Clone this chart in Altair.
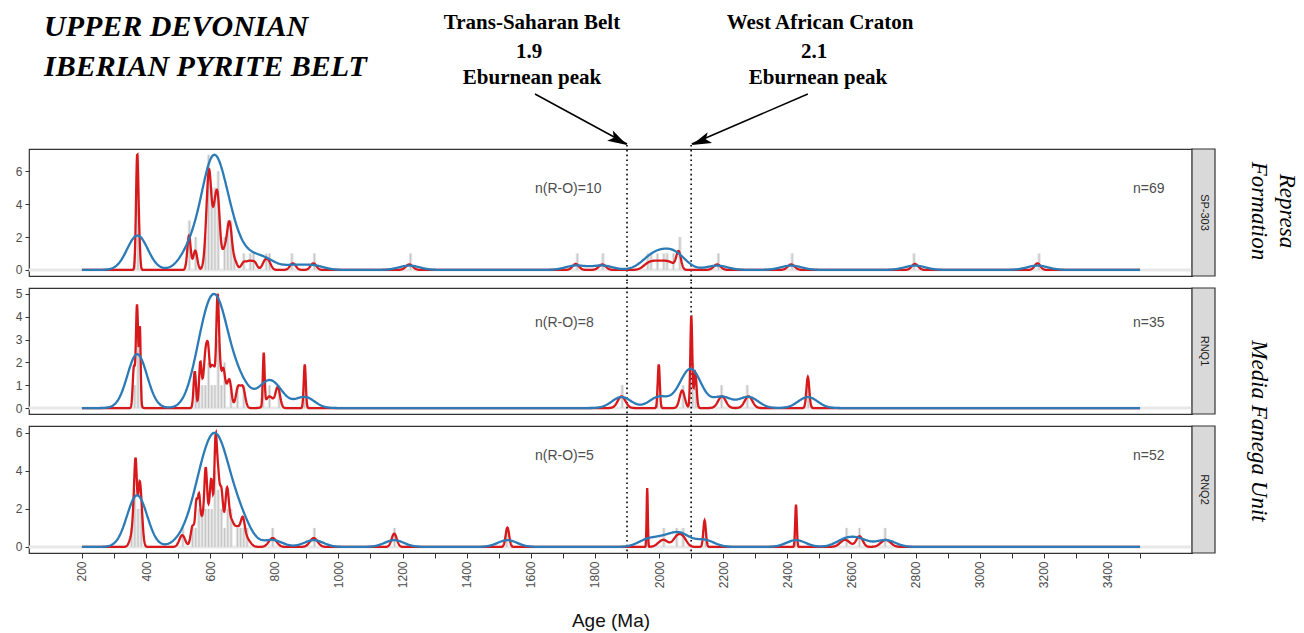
import altair as alt
import pandas as pd

# ---------------- data ----------------
PANELS = ["SP-303", "RNQ1", "RNQ2"]
PEAKS = [7, 5, 6]
N_TEXT = ["n=69", "n=35", "n=52"]
RO_TEXT = ["n(R-O)=10", "n(R-O)=8", "n(R-O)=5"]
Y_DOMAINS = [[-0.37, 7.35], [-0.26, 5.26], [-0.32, 6.36]]
Y_TICKS = [[0, 2, 4, 6], [0, 1, 2, 3, 4, 5], [0, 2, 4, 6]]
X_DOMAIN = [35, 3662]
X_TICKS = list(range(200, 3501, 100))
REF_AGES = [1900, 2100]

# SP-303 grain ages (Ma) and 1-sigma uncertainties
SP303_AGES = [369, 371, 372, 372, 373, 374, 376, 379,
              532, 534, 536, 552, 555,
              584, 588, 590, 592, 594, 595, 596, 597, 598, 600, 601, 603,
              607, 609, 611, 614, 616, 618, 619,
              621, 623, 625, 626, 627, 628,
              640, 646,
              653, 656, 659, 661, 663, 666,
              677,
              705, 722, 738, 770, 782,
              858, 922,
              1221, 1740, 1823,
              1962, 1978, 1994, 2010, 2026, 2042, 2060, 2062,
              2181, 2412, 2798, 3180]
SP303_SIGMA = [3, 3, 3, 3, 3, 3, 3, 3,
               5, 5, 5, 6, 6,
               6, 5, 5, 5, 5, 5, 5, 5, 5, 5, 5, 5,
               6, 6, 6, 6, 6, 6, 6,
               6, 6, 6, 6, 6, 6,
               6, 6,
               6, 6, 6, 6, 6, 6,
               7,
               8, 8, 8, 8, 8,
               9, 9,
               11, 10, 11,
               15, 15, 15, 15, 15, 15, 7, 7,
               11, 11, 10, 9]

# RNQ1
RNQ1_AGES = [362, 371, 372, 376, 381,
             552, 569, 578, 585, 590, 595, 604, 612, 620, 623, 625, 630, 640, 648, 661, 687, 702,
             767, 785, 811, 895,
             1883, 1999, 2072, 2100, 2101, 2113, 2196, 2279, 2464]
RNQ1_SIGMA = [3.5, 3.3, 3.3, 5, 2.2,
              3.8, 3.8, 8, 5, 5, 4, 4, 4, 3.3, 3.3, 3.3, 4, 5, 8, 6, 7, 7,
              2.7, 12, 7, 3.2,
              12, 3.2, 8, 3, 3, 4, 12, 12, 4.5]

# RNQ2
RNQ2_AGES = [358, 363, 367, 369, 374, 379, 382, 385,
             513, 545, 557, 560, 565, 574, 578, 585, 587, 592, 595, 603, 605, 610,
             615, 617, 618, 623, 625, 628, 633, 636, 642, 651, 654, 660, 665, 680, 690, 702, 712,
             795, 923, 1174, 1527,
             1963, 2013, 2055, 2074, 2142,
             2427, 2580, 2625, 2707]
RNQ2_SIGMA = [8, 4, 3.5, 3.5, 8, 4, 6, 5,
              9, 6, 3.5, 10, 3.5, 8, 10, 4, 4, 10, 7, 4.5, 4.5, 10,
              3.5, 3.5, 3.5, 4, 4, 10, 5, 5, 10, 5, 5, 10, 8, 10, 10, 6, 12,
              12, 12, 8, 5.5,
              1.8, 15, 12, 12, 4,
              2.5, 15, 10, 15]

AGES = [SP303_AGES, RNQ1_AGES, RNQ2_AGES]
SIGMAS = [SP303_SIGMA, RNQ1_SIGMA, RNQ2_SIGMA]
BANDWIDTHS = [32, 30, 30]

# ---------------- styling / layout ----------------
RED = "#d7191c"
BLUE = "#2c7bb6"
SANS = "Liberation Sans"
SERIF = "Liberation Serif"
W = 1163
HEIGHTS = [127, 126, 127]
RO_Y = [40, 35, 30]


def make_panel(i):
    h = HEIGHTS[i]
    last = i == len(PANELS) - 1
    xs = alt.Scale(domain=X_DOMAIN, nice=False, zero=False)
    ys = alt.Scale(domain=Y_DOMAINS[i], nice=False, zero=False)
    if last:
        xaxis = alt.Axis(values=X_TICKS, format="d",
                         labelExpr="datum.value % 200 == 0 ? datum.label : ''",
                         labelAngle=270, labelFontSize=12, labelColor="#4d4d4d", labelFont=SANS,
                         labelFlush=False, labelPadding=3,
                         tickColor="#333333", tickSize=5, tickWidth=1,
                         domain=False, grid=False, title="Age (Ma)", titleFont=SANS,
                         titleFontSize=19, titleFontWeight="normal", titleColor="#111111",
                         titlePadding=24)
    else:
        xaxis = None
    yaxis = alt.Axis(values=Y_TICKS[i], format="d", labelFontSize=12, labelColor="#4d4d4d",
                     labelFont=SANS, tickColor="#333333", tickSize=4, domain=False,
                     grid=False, title=None, labelPadding=3)

    def X(f):
        return alt.X(f, type="quantitative", scale=xs, axis=xaxis)

    def Y(f):
        return alt.Y(f, type="quantitative", scale=ys, axis=yaxis)

    one = pd.DataFrame({"z": [0]})
    grains = pd.DataFrame({"age": AGES[i], "sigma": SIGMAS[i]})
    grains["w"] = 1
    pdp_src = pd.concat([grains, pd.DataFrame({"age": [0.0], "sigma": [1.0], "w": [0]})],
                        ignore_index=True)

    layers = []
    layers.append(alt.Chart(one).mark_rule(color="#e8e8e8", strokeWidth=3).encode(
        x=alt.value(0), x2=alt.value(W), y=Y("z")))

    hist = alt.Chart(grains).transform_bin(
        as_="b0", field="age", bin=alt.Bin(step=10, extent=[0, 3700])
    ).transform_aggregate(
        count="count()", groupby=["b0", "b0_end"]
    ).transform_calculate(mid="(datum.b0 + datum.b0_end) / 2", z="0")
    layers.append(hist.mark_rect(fill="#e4e4e4", clip=True).encode(
        x=X("b0"), x2="b0_end:Q", y=Y("count"), y2="z:Q"))
    layers.append(hist.mark_rule(color="#b8b8b8", strokeWidth=0.8, clip=True).encode(
        x=X("mid"), y=Y("count"), y2="z:Q"))

    top = -4 if i == 0 else -6
    bottom = h if last else h + 6
    layers.append(alt.Chart(pd.DataFrame({"x": REF_AGES})).mark_rule(
        color="black", strokeWidth=1.6, strokeDash=[1.6, 3.2]).encode(
        x=X("x"), y=alt.value(top), y2=alt.value(bottom)))

    red = alt.Chart(pdp_src).transform_calculate(
        grid="datum.w == 0 ? sequence(200, 3501, 1) : "
             "sequence(floor(datum.age - 5 * datum.sigma), ceil(datum.age + 5 * datum.sigma) + 1, 1)"
    ).transform_flatten(["grid"]).transform_filter(
        "datum.grid >= 200 && datum.grid <= 3500"
    ).transform_calculate(
        pdf="datum.w == 0 ? 0 : exp(-0.5 * pow((datum.grid - datum.age) / datum.sigma, 2)) / datum.sigma"
    ).transform_aggregate(
        pdf="sum(pdf)", groupby=["grid"]
    ).transform_joinaggregate(pmax="max(pdf)").transform_calculate(
        y=f"datum.pdf / datum.pmax * {PEAKS[i]}"
    ).mark_line(color=RED, strokeWidth=2.3, clip=True).encode(x=X("grid"), y=Y("y"))
    layers.append(red)

    blue = alt.Chart(grains).transform_density(
        "age", as_=["gx", "density"], bandwidth=BANDWIDTHS[i], extent=[200, 3500], steps=1651
    ).transform_joinaggregate(dmax="max(density)").transform_calculate(
        y=f"datum.density / datum.dmax * {PEAKS[i]}"
    ).mark_line(color=BLUE, strokeWidth=2.3, clip=True).encode(x=X("gx"), y=Y("y"))
    layers.append(blue)

    # sample counts
    layers.append(alt.Chart(pd.DataFrame({"x": [1613], "t": [RO_TEXT[i]]})).mark_text(
        align="left", baseline="middle", font=SANS, fontSize=14, color="#4d4d4d").encode(
        x=X("x"), y=alt.value(RO_Y[i]), text="t:N"))
    layers.append(alt.Chart(pd.DataFrame({"x": [3478], "t": [N_TEXT[i]]})).mark_text(
        align="left", baseline="middle", font=SANS, fontSize=14, color="#4d4d4d").encode(
        x=X("x"), y=alt.value(RO_Y[i]), text="t:N"))

    # facet strip
    layers.append(alt.Chart(one).mark_rect(fill="#d9d9d9", stroke="#333333", strokeWidth=1.2).encode(
        x=alt.value(W), x2=alt.value(W + 23), y=alt.value(0), y2=alt.value(h)))
    layers.append(alt.Chart(one).mark_text(angle=90, fontSize=11, font=SANS, color="#1a1a1a",
                                           align="center", baseline="middle", text=PANELS[i]).encode(
        x=alt.value(W + 11.5), y=alt.value(h / 2)))

    if i == 0:
        for txt, yy in [("UPPER DEVONIAN", -113), ("IBERIAN PYRITE BELT", -73)]:
            layers.append(alt.Chart(one).mark_text(
                text=txt, font=SERIF, fontSize=30, fontWeight="bold", fontStyle="italic",
                align="left", baseline="alphabetic", color="black").encode(
                x=alt.value(15), y=alt.value(yy)))
        for txt, xx, yy in [("Trans-Saharan Belt", 503, -120), ("1.9", 500, -91),
                            ("Eburnean peak", 503, -65),
                            ("West African Craton", 791, -120), ("2.1", 785, -91),
                            ("Eburnean peak", 789, -65)]:
            layers.append(alt.Chart(one).mark_text(
                text=txt, font=SERIF, fontSize=21, fontWeight="bold",
                align="center", baseline="alphabetic", color="black").encode(
                x=alt.value(xx), y=alt.value(yy)))
        arrows = pd.DataFrame({"x": [1613, 2464], "x2": [1900, 2102], "ang": [29, 158]})
        layers.append(alt.Chart(arrows).mark_rule(color="black", strokeWidth=1.5).encode(
            x=X("x"), x2="x2:Q", y=alt.value(-55), y2=alt.value(-5)))
        for k in range(2):
            layers.append(alt.Chart(arrows.iloc[[k]]).mark_point(
                shape="M0,0L-2,-0.6L-1.55,0L-2,0.6Z", filled=True, color="black", opacity=1,
                size=380, angle=int(arrows["ang"][k]), strokeWidth=0).encode(
                x=X("x2"), y=alt.value(-4)))
        layers.append(alt.Chart(one).mark_text(
            text=["Represa", "Formation"], font=SERIF, fontSize=23, fontStyle="italic",
            lineHeight=28, angle=90, align="center", baseline="alphabetic", color="black").encode(
            x=alt.value(1251), y=alt.value(62)))
    if i == 1:
        layers.append(alt.Chart(one).mark_text(
            text="Media Fanega Unit", font=SERIF, fontSize=23, fontStyle="italic",
            angle=90, align="center", baseline="alphabetic", color="black").encode(
            x=alt.value(1223), y=alt.value(143)))

    return alt.layer(*layers).properties(width=W, height=h)


chart = alt.vconcat(*[make_panel(i) for i in range(3)], spacing=12, bounds="flush").properties(
    padding={"left": 14, "top": 11, "right": 5, "bottom": 0}, background="white"
).configure_view(stroke="#333333", strokeWidth=1.2)

chart.save("out.html", embed_options={"renderer": "svg", "actions": False})
